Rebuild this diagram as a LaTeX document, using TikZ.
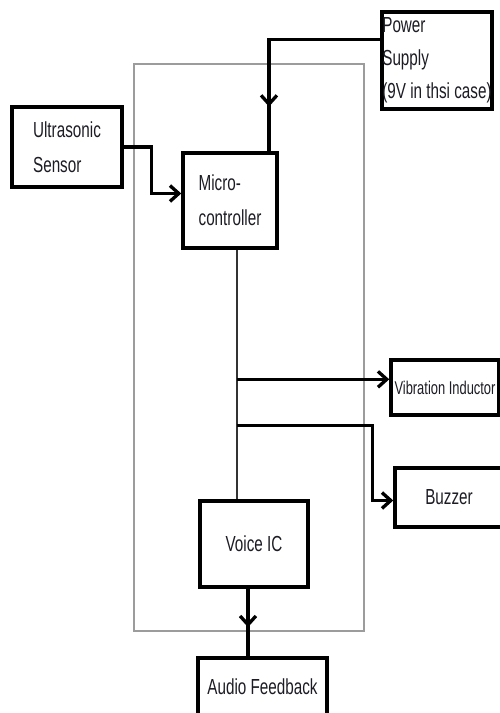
\documentclass[tikz,border=0pt]{standalone}
\usepackage{fontspec}
\setmainfont{Liberation Sans}[FakeStretch=0.7]
\usepackage{xcolor}
\usepackage{tikz}
\usetikzlibrary{positioning,arrows.meta,calc,decorations.markings}
\definecolor{ink}{HTML}{1C1C24}
\definecolor{frame}{HTML}{9C9C9C}
\tikzset{
    block/.style={rectangle, draw=black, line width=2pt, align=left, inner sep=0pt, text=ink, font=\fontsize{12.4}{19.8}\selectfont},
    wire/.style={line width=1.9pt, color=black},
    bus/.style={line width=1.5pt, color=black!80},
    tip/.style={-{Straight Barb[length=5pt,width=9pt]}},
    midtip/.style={postaction={decorate}, decoration={markings, mark=at position #1 with {\arrow{Straight Barb[length=5pt,width=9pt]}}}},
    board/.style={draw=frame, line width=0.6pt}
}

\begin{document}
\begin{tikzpicture}[x=0.02cm, y=-0.02cm]
\useasboundingbox (0,0) rectangle (500,713);
\clip (0,0) rectangle (500,713);
% board outline
\draw[board] (134,64) rectangle (364,631);
\node[block, minimum width=2.2cm, minimum height=1.6cm] (sensor) at (67,147) {Ultrasonic\\Sensor};
\node[block, minimum width=1.88cm, minimum height=1.9cm] (micro) at (230,200.5) {Micro-\\controller};
\node[block, minimum width=2.2cm, minimum height=1.94cm, font=\fontsize{12.4}{18.7}\selectfont] (power) at (437,60.5) {Power\\Supply\\(9V in thsi case)};
\node[block, minimum width=2.16cm, minimum height=1.1cm, font=\fontsize{10.5}{12}\selectfont] (vib) at (445,387.5) {Vibration Inductor};
\node[block, minimum width=2.16cm, minimum height=1.18cm] (buzzer) at (449,497.5) {Buzzer};
\node[block, minimum width=2.16cm, minimum height=1.72cm] (voice) at (254,544) {Voice IC};
\node[block, minimum width=2.58cm, minimum height=1.16cm] (audio) at (262.5,687) {Audio Feedback};
% connectors
\coordinate (pwrout) at ($(power.north west)!0.29!(power.south west)$);
\coordinate (mcin) at ($(micro.north west)!0.9!(micro.north east)$);
\draw[wire, midtip=0.8] (pwrout) -| (mcin);
\draw[wire, tip] (sensor.east) -- ++(28,0) |- ($(micro.west)+(0,-7)$);
\coordinate (mcout) at ($(micro.south west)!0.57!(micro.south east)$);
\draw[bus] (mcout) -- (mcout |- voice.north);
\coordinate (vibin) at ($(vib.north west)!0.36!(vib.south west)$);
\draw[wire, tip] (mcout |- vibin) -- (vibin);
\coordinate (j2) at ($(mcout)+(0,176)$);
\draw[wire, tip] (j2) -- ++(136,0) |- ($(buzzer.west)+(0,3)$);
\coordinate (vcout) at ($(voice.south)+(-6,0)$);
\draw[wire, midtip=0.57] (vcout) -- (vcout |- audio.north);
\end{tikzpicture}
\end{document}
